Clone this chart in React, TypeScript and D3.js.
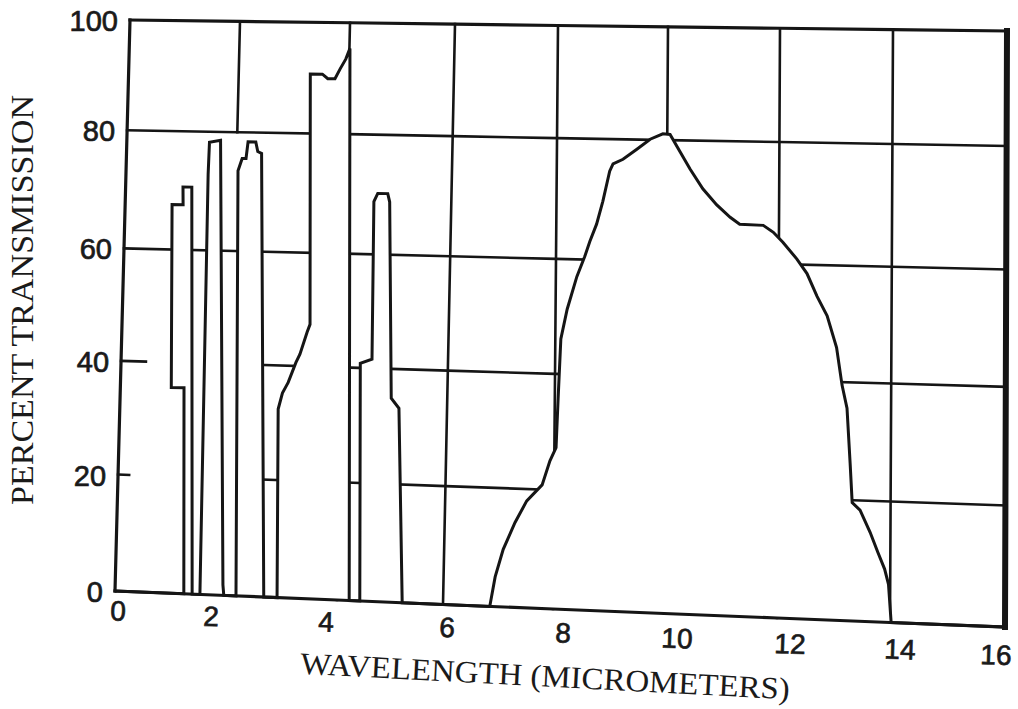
import React from 'react';
import * as d3 from 'd3';

// ---------- data ----------
const xTicks = [0, 2, 4, 6, 8, 10, 12, 14, 16];
const yTicks = [0, 20, 40, 60, 80, 100];
const xTickLabels = ['0', '2', '4', '6', '8', '10', '12', '14', '16'];
const yTickLabels = ['0', '20', '40', '60', '80', '100'];
const xTitle = 'WAVELENGTH (MICROMETERS)';
const yTitle = 'PERCENT TRANSMISSION';

// wavelength (micrometers) and percent transmission along the traced curve
const wavelength = [
  0, 1.24, 1.15, 0.92, 0.85, 1.05, 1.04, 1.2, 1.39,
  1.53, 1.49, 1.5, 1.7, 1.94, 1.96,
  2.18, 2.03, 2.1, 2.17, 2.2, 2.34, 2.38, 2.45, 2.68,
  2.92, 2.86, 2.93, 3.03, 3.16, 3.23, 3.35, 3.4, 3.3, 3.52, 3.62, 3.75, 3.84, 3.94, 4.01, 4.23,
  4.43, 4.34, 4.56, 4.53, 4.6, 4.79, 4.83, 4.94, 5.09, 5.23,
  6.85, 6.94, 7.08, 7.29, 7.5, 7.78, 7.92, 8.03, 8.06, 8.1, 8.21, 8.38, 8.52, 8.61, 8.73, 8.84,
  8.96, 9.02, 9.2, 9.45, 9.69, 9.92, 10.05, 10.23, 10.41, 10.64, 10.89, 11.13, 11.3, 11.72, 11.9,
  12.07, 12.32, 12.5, 12.68, 12.86, 13.03, 13.13, 13.22, 13.28, 13.32, 13.46, 13.64, 13.78, 13.9,
  13.97, 14.02, 16,
];
const transmission = [
  0, 0, 35.6, 35.6, 67.6, 67.6, 70.6, 70.6, 0,
  0, 72.8, 78.2, 78.6, 1.8, 0,
  0, 73.5, 75.6, 75.6, 78.4, 78.4, 76.8, 76.5, 0,
  0, 32.4, 35.2, 37.1, 40.6, 42.1, 46, 47.4, 90.7, 90.7, 89.9, 89.9, 91.7, 93.5, 95.4, 0,
  0, 40.8, 41.6, 68.8, 70.2, 70.2, 68.8, 34.9, 33.2, 0,
  0, 5, 9.7, 14.3, 18, 20.8, 25, 27.3, 35.8, 46.1, 51.3, 57, 60.5, 63, 65.9, 69.7,
  74.7, 75.9, 76.7, 78.4, 80.1, 81.1, 81, 78.1, 75.3, 72.1, 69.5, 67.5, 66.4, 66.3, 65.2,
  63.6, 60.9, 58.5, 54.6, 51.3, 45.9, 39.5, 35.6, 26.3, 19.6, 18.4, 14.8, 11.5, 8.8,
  6.3, 0, 0,
];

// grid lines that are missing on the original sheet
const gridGaps = [
  { axis: 'y', value: 20, from: 0.2, to: 2.6 },
  { axis: 'y', value: 40, from: 0.45, to: 2.6 },
  { axis: 'x', value: 2, from: 0, to: 80 },
];

// ---------- photographed-sheet geometry (scales) ----------
const W = 1018;
const H = 709;
const topX = d3.scaleLinear().domain(xTicks).range([130, 240, 350, 455, 558, 668, 780, 893, 1007]);
const botX = d3.scaleLinear().domain(xTicks).range([115, 226, 337, 443, 553, 664, 777, 890, 1005]);
const topY = d3.scaleLinear().domain([0, 16]).range([20, 31]);
const botY = d3.scaleLinear().domain([0, 16]).range([591, 627]);
const depth = d3.scaleLinear().domain(yTicks.slice().reverse()).range([0, 0.193, 0.4, 0.597, 0.796, 1]);
// the printed wavelength numbers sit on their own (slightly uneven) baseline
const labelX = d3.scaleLinear().domain(xTicks).range([118, 211, 326, 447, 563, 677, 790, 900, 996]);
const labelY = d3.scaleLinear().domain([0, 16]).range([611, 655]);

function project(x: number, y: number): [number, number] {
  const t = depth(y);
  const tx = topX(x), bx = botX(x);
  const ty = topY(x), by = botY(x);
  return [tx + t * (bx - tx), ty + t * (by - ty)];
}

const line = d3.line<[number, number]>();

function segmentsFor(axis: string, value: number, lo: number, hi: number) {
  const gaps = gridGaps.filter((g) => g.axis === axis && g.value === value).sort((a, b) => a.from - b.from);
  const segs: [number, number][] = [];
  let cur = lo;
  for (const g of gaps) {
    if (g.from > cur) segs.push([cur, g.from]);
    cur = Math.max(cur, g.to);
  }
  if (cur < hi) segs.push([cur, hi]);
  return segs;
}

function hPath(v: number, a: number, b: number) {
  const xs = [a, ...xTicks.filter((x) => x > a && x < b), b];
  return line(xs.map((x) => project(x, v))) || '';
}
function vPath(x: number, a: number, b: number) {
  const ys = [a, ...yTicks.filter((y) => y > a && y < b), b];
  return line(ys.map((y) => project(x, y))) || '';
}

const INK = '#151515';
const TICK_FONT = "'Liberation Sans', Arial, sans-serif";
const TITLE_FONT = "'Liberation Serif', 'Times New Roman', serif";

export default function App() {
  const pts = wavelength.map((w, i) => project(w, transmission[i]));
  const curvePath = line(pts) || '';

  const hLines: string[] = [];
  yTicks.filter((v) => v > 0 && v < 100).forEach((v) => {
    segmentsFor('y', v, 0, 16).forEach(([a, b]) => hLines.push(hPath(v, a, b)));
  });
  const vLines: string[] = [];
  xTicks.filter((x) => x > 0 && x < 16).forEach((x) => {
    segmentsFor('x', x, 0, 100).forEach(([a, b]) => vLines.push(vPath(x, a, b)));
  });

  const topEdge = hPath(100, 0, 16);
  const bottomEdge = hPath(0, 0, 16);
  const leftEdge = vPath(0, 0, 100);
  const rightEdge = vPath(16, 0, 100);

  return (
    <svg
      width={W}
      height={H}
      viewBox={`0 0 ${W} ${H}`}
      style={{ position: 'absolute', left: 0, top: 0, background: '#ffffff' }}
    >
      <rect x={0} y={0} width={W} height={H} fill="#ffffff" />
      {/* grid */}
      <g stroke={INK} strokeWidth={2.6} fill="none" strokeLinecap="square">
        {hLines.map((d, i) => (
          <path key={'h' + i} d={d} />
        ))}
        {vLines.map((d, i) => (
          <path key={'v' + i} d={d} />
        ))}
      </g>
      {/* transmission curve: white inside, hiding the grid */}
      <path d={curvePath + 'Z'} fill="#ffffff" stroke="none" />
      <path d={curvePath} fill="none" stroke={INK} strokeWidth={3} strokeLinejoin="miter" />
      {/* frame */}
      <g stroke={INK} fill="none" strokeLinecap="square">
        <path d={topEdge} strokeWidth={3.2} />
        <path d={bottomEdge} strokeWidth={3.2} />
        <path d={leftEdge} strokeWidth={3.2} />
        <path d={rightEdge} strokeWidth={6} />
      </g>
      {/* tick labels */}
      <g fontFamily={TICK_FONT} fill="#1a1a1a" stroke="#1a1a1a" strokeWidth={0.7}>
        {yTicks.map((v, i) => {
          const [px, py] = project(0, v);
          return (
            <text key={'yl' + v} x={px - 12} y={py + 1} fontSize={29} textAnchor="end" dominantBaseline="central">
              {yTickLabels[i]}
            </text>
          );
        })}
        {xTicks.map((v, i) => {
          const px = labelX(v);
          const py = labelY(v);
          return (
            <text
              key={'xl' + v}
              x={px}
              y={py}
              fontSize={28}
              textAnchor="middle"
              dominantBaseline="central"
              transform={`rotate(2 ${px} ${py})`}
            >
              {xTickLabels[i]}
            </text>
          );
        })}
      </g>
      {/* axis titles */}
      <text
        x={545}
        y={676}
        fontFamily={TITLE_FONT}
        fontSize={31}
        fill="#1a1a1a"
        textAnchor="middle"
        dominantBaseline="central"
        textLength={490}
        lengthAdjust="spacingAndGlyphs"
        transform="rotate(3 545 676)"
      >
        {xTitle}
      </text>
      <text
        x={22}
        y={300}
        fontFamily={TITLE_FONT}
        fontSize={31}
        fill="#1a1a1a"
        textAnchor="middle"
        dominantBaseline="central"
        textLength={410}
        lengthAdjust="spacingAndGlyphs"
        transform="rotate(-90 22 300)"
      >
        {yTitle}
      </text>
    </svg>
  );
}
